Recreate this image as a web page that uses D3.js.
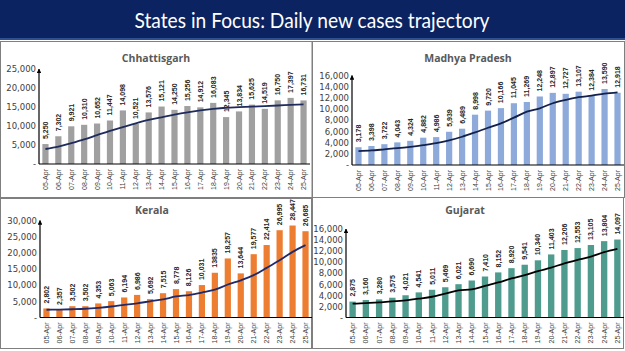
<!DOCTYPE html>
<html>
<head>
<meta charset="utf-8">
<script src="https://cdn.jsdelivr.net/npm/d3@7"></script>
<style>
  body { margin: 0; background: #fff; }
  svg { display: block; }
  .tick text { font-family: "DejaVu Sans", sans-serif; fill: #404040; }
</style>
</head>
<body>
<script>
// Dates on the x axis.
const dates = ['05-Apr', '06-Apr', '07-Apr', '08-Apr', '09-Apr', '10-Apr', '11-Apr', '12-Apr', '13-Apr', '14-Apr', '15-Apr',
  '16-Apr', '17-Apr', '18-Apr', '19-Apr', '20-Apr', '21-Apr', '22-Apr', '23-Apr', '24-Apr', '25-Apr'];

// Daily new cases.
const chhattisgarh = [5250, 7302, 9921, 10310, 10652, 11447, 14098, 10521, 13576, 15121, 14250, 15256, 14912, 16083, 12345, 13834, 15625, 14519, 16750, 17397, 16731];
const madhyaPradesh = [3178, 3398, 3722, 4043, 4324, 4882, 4986, 5939, 6489, 8998, 9720, 10166, 11045, 11269, 12248, 12897, 12727, 13107, 12384, 13590, 12918];
const kerala = [2802, 2357, 3502, 3502, 4353, 5063, 6194, 6986, 5692, 7515, 8778, 8126, 10031, 13835, 18257, 13644, 19577, 22414, 26995, 28447, 26685];
const gujarat = [2875, 3160, 3280, 3575, 4021, 4541, 5011, 5469, 6021, 6690, 7410, 8152, 8920, 9541, 10340, 11403, 12206, 12553, 13105, 13804, 14097];

// Trend lines.
const chhattisgarhTrend = [3950, 4550, 5500, 6500, 7600, 8700, 9700, 10700, 11600, 12300, 13000, 13600, 14100, 14500, 14800, 14950, 15100, 15250, 15400, 15550, 15700];
const madhyaPradeshTrend = [2480, 2600, 2800, 3000, 3250, 3550, 3900, 4400, 5050, 5830, 6660, 7450, 8460, 9530, 10140, 11040, 11630, 12120, 12400, 12760, 13000];
const keralaTrend = [2400, 2450, 2550, 2700, 3000, 3400, 3900, 4400, 5000, 5600, 6500, 6950, 7700, 8600, 10200, 11500, 13100, 15350, 17700, 20300, 22400];
const gujaratTrend = [2500, 2600, 2750, 2900, 3100, 3400, 3750, 4300, 4900, 5100, 5700, 6330, 7060, 7660, 8390, 9000, 9800, 10400, 11000, 11800, 12400];

// Y axis ticks.
const ticksChhattisgarh = [0, 5000, 10000, 15000, 20000, 25000];
const ticksMadhyaPradesh = [0, 2000, 4000, 6000, 8000, 10000, 12000, 14000, 16000];
const ticksKerala = [0, 5000, 10000, 15000, 20000, 25000, 30000];
const ticksGujarat = [0, 2000, 4000, 6000, 8000, 10000, 12000, 14000, 16000];

const svg = d3.select('body')
  .append('svg')
  .attr('width', 625)
  .attr('height', 351);

svg.append('defs')
  .append('marker')
  .attr('id', 'arrow')
  .attr('viewBox', '0 0 10 10')
  .attr('refX', 9)
  .attr('refY', 5)
  .attr('markerWidth', 4)
  .attr('markerHeight', 4)
  .attr('orient', 'auto')
  .append('path')
  .attr('d', 'M0,0 L10,5 L0,10 z')
  .attr('fill', '#000');

// Title bar.
svg.append('rect').attr('x', 0).attr('y', 0).attr('width', 625).attr('height', 39).attr('fill', '#0b2461');
svg.append('rect').attr('x', 0).attr('y', 38).attr('width', 625).attr('height', 2).attr('fill', '#2f4f8f');
svg.append('text')
  .attr('x', 312)
  .attr('y', 28)
  .attr('text-anchor', 'middle')
  .attr('fill', '#fff')
  .attr('font-family', 'Lato, sans-serif')
  .attr('font-size', 21)
  .attr('textLength', 355)
  .attr('lengthAdjust', 'spacingAndGlyphs')
  .text('States in Focus: Daily new cases trajectory');

// Panel frames.
const frames = [[0.5, 41.5, 311.5, 156], [312.5, 41.5, 312, 156], [0.5, 198.5, 311, 150], [312.5, 197.5, 311, 151]];
svg.selectAll('rect.frame')
  .data(frames)
  .enter()
  .append('rect')
  .attr('class', 'frame')
  .attr('x', (d) => d[0])
  .attr('y', (d) => d[1])
  .attr('width', (d) => d[2])
  .attr('height', (d) => d[3])
  .attr('fill', 'none')
  .attr('stroke', '#7f7f7f')
  .attr('stroke-width', 1);

function drawPanel(p)
{
  const g = svg.append('g');

  const x = d3.scaleBand()
    .domain(dates)
    .range([p.x0, p.x1])
    .paddingInner(0.52)
    .paddingOuter(0.26);

  const y = d3.scaleLinear()
    .domain([0, p.ticks[p.ticks.length - 1]])
    .range([p.y0, p.y1]);

  // Title.
  g.append('text')
    .attr('x', p.titleX)
    .attr('y', p.titleY)
    .attr('text-anchor', 'middle')
    .attr('font-family', '"Open Sans", sans-serif')
    .attr('font-weight', 'bold')
    .attr('font-size', 10.5)
    .attr('fill', '#595959')
    .text(p.name);

  // Y axis labels.
  const yAxis = d3.axisLeft(y)
    .tickValues(p.ticks)
    .tickSize(0)
    .tickPadding(3)
    .tickFormat((t) => t === 0 ? '-' : d3.format(',')(t));

  g.append('g')
    .attr('transform', 'translate(' + p.x0 + ',0)')
    .call(yAxis)
    .call((a) => a.select('.domain').remove())
    .selectAll('text')
    .attr('font-size', 8.5);

  // Bars.
  g.selectAll('rect.bar')
    .data(p.values)
    .enter()
    .append('rect')
    .attr('class', 'bar')
    .attr('x', (d, i) => x(dates[i]))
    .attr('y', (d) => y(d))
    .attr('width', x.bandwidth())
    .attr('height', (d) => y(0) - y(d))
    .attr('fill', p.color);

  // Value labels.
  g.selectAll('text.value')
    .data(p.values)
    .enter()
    .append('text')
    .attr('class', 'value')
    .attr('transform', (d, i) => 'translate(' + (x(dates[i]) + x.bandwidth() / 2 + 2.5) + ',' + (y(d) - 5) + ') rotate(-90)')
    .attr('font-family', '"Liberation Sans", sans-serif')
    .attr('font-weight', 'bold')
    .attr('font-size', 7)
    .attr('fill', '#262626')
    .text((d, i) => p.labels ? p.labels[i] : d3.format(',')(d));

  // X labels.
  g.selectAll('text.date')
    .data(dates)
    .enter()
    .append('text')
    .attr('class', 'date')
    .attr('transform', (d) => 'translate(' + (x(d) + x.bandwidth() / 2 + 2.5) + ',' + (p.y0 + 5) + ') rotate(-90)')
    .attr('text-anchor', 'end')
    .attr('font-family', '"Liberation Sans", sans-serif')
    .attr('font-size', 7)
    .attr('fill', '#404040')
    .text((d) => d);

  // Trend line.
  const line = d3.line()
    .x((d, i) => x(dates[i]) + x.bandwidth() / 2)
    .y((d) => y(d))
    .curve(d3.curveMonotoneX);

  g.append('path')
    .datum(p.trend)
    .attr('d', line)
    .attr('fill', 'none')
    .attr('stroke', p.lineColor)
    .attr('stroke-width', 1.8);

  // Axis lines.
  g.append('line')
    .attr('x1', p.x0).attr('x2', p.x1)
    .attr('y1', y(0)).attr('y2', y(0))
    .attr('stroke', '#000')
    .attr('stroke-width', 1.2);

  g.append('line')
    .attr('x1', p.x0).attr('x2', p.x0)
    .attr('y1', y(0)).attr('y2', p.y1)
    .attr('stroke', '#000')
    .attr('stroke-width', 1.2)
    .attr('marker-end', 'url(#arrow)');
}

drawPanel({name: 'Chhattisgarh', values: chhattisgarh, trend: chhattisgarhTrend, ticks: ticksChhattisgarh,
  color: '#a0a0a0', lineColor: '#1f2b5c', x0: 39, x1: 310, y0: 164, y1: 69, titleX: 156, titleY: 62});
drawPanel({name: 'Madhya Pradesh', values: madhyaPradesh, trend: madhyaPradeshTrend, ticks: ticksMadhyaPradesh,
  color: '#8eaadb', lineColor: '#13204a', x0: 352, x1: 624, y0: 165, y1: 75.5, titleX: 468, titleY: 62});
drawPanel({name: 'Kerala', values: kerala, trend: keralaTrend, ticks: ticksKerala,
  labels: kerala.map((v) => v === 13835 ? '13835' : d3.format(',')(v)),
  color: '#ed7d31', lineColor: '#1f2a6b', x0: 40, x1: 312, y0: 317.5, y1: 220.5, titleX: 152, titleY: 214});
drawPanel({name: 'Gujarat', values: gujarat, trend: gujaratTrend, ticks: ticksGujarat,
  color: '#4f9c8f', lineColor: '#000', x0: 346, x1: 624, y0: 317.5, y1: 229, titleX: 465, titleY: 214});
</script>
</body>
</html>
